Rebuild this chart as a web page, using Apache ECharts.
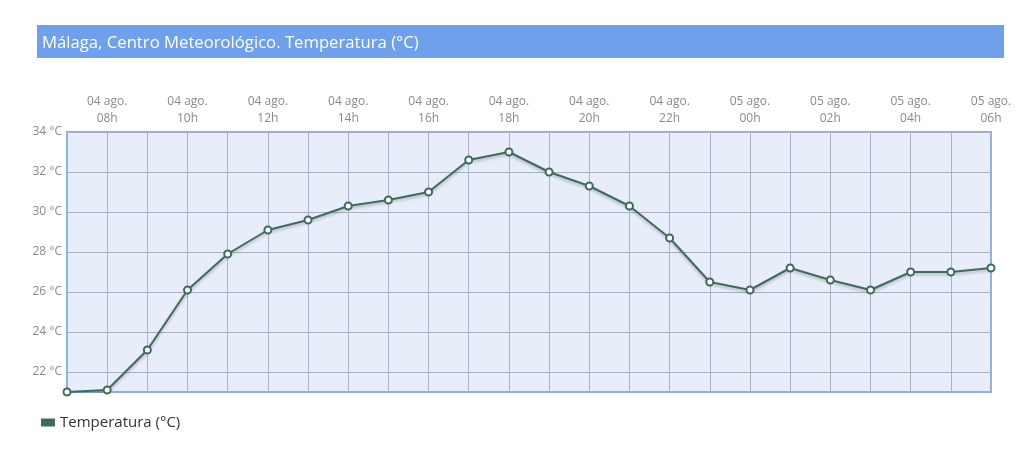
<!DOCTYPE html>
<html>
<head>
<meta charset="utf-8">
<script src="https://cdn.jsdelivr.net/npm/echarts@6/dist/echarts.min.js"></script>
<style>
html,body{margin:0;padding:0;background:#fff;}
#c{width:1036px;height:466px;}
</style>
</head>
<body>
<div id="c"></div>
<script>
var titleText = 'Málaga, Centro Meteorológico. Temperatura (°C)';
var seriesName = 'Temperatura (°C)';
var dates = ['04 ago.','04 ago.','04 ago.','04 ago.','04 ago.','04 ago.','04 ago.','04 ago.','04 ago.','04 ago.','04 ago.','04 ago.','04 ago.','04 ago.','04 ago.','04 ago.','04 ago.','05 ago.','05 ago.','05 ago.','05 ago.','05 ago.','05 ago.','05 ago.'];
var hours = ['07h','08h','09h','10h','11h','12h','13h','14h','15h','16h','17h','18h','19h','20h','21h','22h','23h','00h','01h','02h','03h','04h','05h','06h'];
var temps = [21.0,21.1,23.1,26.1,27.9,29.1,29.6,30.3,30.6,31.0,32.6,33.0,32.0,31.3,30.3,28.7,26.5,26.1,27.2,26.6,26.1,27.0,27.0,27.2];
var yMin = 21, yMax = 34;

var categories = dates.map(function(d,i){ return d + '\n' + hours[i]; });
var lineColor = '#3f6b5b';
var font = '"Open Sans", "Noto Sans", sans-serif';

var chart = echarts.init(document.getElementById('c'));
chart.setOption({
  animation: false,
  backgroundColor: '#ffffff',
  graphic: [
    {type:'rect', left:37, top:25, shape:{width:967, height:33}, style:{fill:'#6fa0ec'}},
    {type:'text', x:42, y:43, style:{text:titleText, fill:'#ffffff', font:'16.7px ' + font, verticalAlign:'middle', textVerticalAlign:'middle'}}
  ],
  grid: {left:67, right:45, top:132, bottom:74, show:true, backgroundColor:'#e7eefa', borderColor:'#8cb0e3', borderWidth:2},
  legend: {
    left:36, top:410, itemWidth:14, itemHeight:8, itemGap:4,
    textStyle:{fontFamily:font, fontSize:15, color:'#333'},
    data:[{name:seriesName, icon:'rect', itemStyle:{color:lineColor, borderWidth:0}}]
  },
  xAxis: {
    type:'category', position:'top', boundaryGap:false, data:categories,
    axisLine:{show:false}, axisTick:{show:false},
    axisLabel:{interval:function(i){return i%2===1;}, color:'#8a8a8a', fontFamily:font, fontSize:12, lineHeight:17, margin:5},
    splitLine:{show:true, interval:0, lineStyle:{color:'#a9b1c3', width:1}}
  },
  yAxis: {
    type:'value', min:yMin, max:yMax, interval:1,
    axisLine:{show:false}, axisTick:{show:false},
    axisLabel:{color:'#8a8a8a', fontFamily:font, fontSize:12, margin:5,
      formatter:function(v){ return v%2===0 ? v + ' °C' : ''; }},
    splitLine:{show:true, lineStyle:{color:['rgba(0,0,0,0)','#a9b1c3'], width:1}}
  },
  series: [{
    name:seriesName, type:'line', data:temps,
    symbol:'circle', symbolSize:7, showAllSymbol:true,
    lineStyle:{color:lineColor, width:2, shadowColor:'rgba(0,0,0,0.25)', shadowBlur:3, shadowOffsetY:2},
    itemStyle:{color:'#ffffff', borderColor:lineColor, borderWidth:2}
  }]
});
</script>
</body>
</html>
